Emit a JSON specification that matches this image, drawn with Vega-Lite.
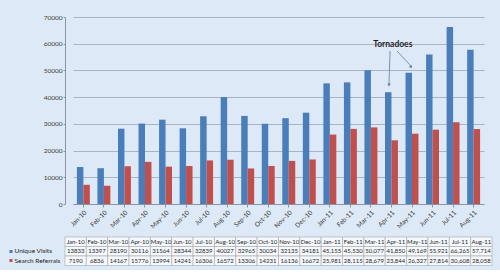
{
  "$schema": "https://vega.github.io/schema/vega-lite/v6.json",
  "background": "#dde9f6",
  "padding": {"left": 7, "top": 14, "right": 10, "bottom": 4},
  "spacing": 6,
  "datasets": {
    "traffic": [
      {"month": "Jan-10", "visits": 13833, "referrals": 7190},
      {"month": "Feb-10", "visits": 13397, "referrals": 6836},
      {"month": "Mar-10", "visits": 28190, "referrals": 14167},
      {"month": "Apr-10", "visits": 30116, "referrals": 15776},
      {"month": "May-10", "visits": 31564, "referrals": 13994},
      {"month": "Jun-10", "visits": 28344, "referrals": 14241},
      {"month": "Jul-10", "visits": 32839, "referrals": 16306},
      {"month": "Aug-10", "visits": 40027, "referrals": 16572},
      {"month": "Sep-10", "visits": 32965, "referrals": 13306},
      {"month": "Oct-10", "visits": 30034, "referrals": 14231},
      {"month": "Nov-10", "visits": 32135, "referrals": 16136},
      {"month": "Dec-10", "visits": 34181, "referrals": 16672},
      {"month": "Jan-11", "visits": 45155, "referrals": 25981},
      {"month": "Feb-11", "visits": 45530, "referrals": 28115},
      {"month": "Mar-11", "visits": 50077, "referrals": 28679},
      {"month": "Apr-11", "visits": 41850, "referrals": 23844},
      {"month": "May-11", "visits": 49169, "referrals": 26327},
      {"month": "Jun-11", "visits": 55921, "referrals": 27814},
      {"month": "Jul-11", "visits": 66265, "referrals": 30608},
      {"month": "Aug-11", "visits": 57714, "referrals": 28058}
    ]
  },
  "vconcat": [
    {
      "width": 427,
      "height": 187,
      "layer": [
        {
          "data": {"name": "traffic"},
          "transform": [{"fold": ["visits", "referrals"], "as": ["series", "count"]}],
          "mark": {"type": "bar"},
          "encoding": {
            "x": {
              "field": "month",
              "type": "nominal",
              "sort": null,
              "title": null,
              "scale": {"range": [8, 419], "paddingInner": 0.37, "paddingOuter": 0.19},
              "axis": {"labelAngle": -45, "labelFontSize": 6.5, "labelColor": "#404040", "tickSize": 3, "tickColor": "#8a96a3", "domainColor": "#8a96a3", "labelPadding": 2}
            },
            "xOffset": {"field": "series", "scale": {"domain": ["visits", "referrals"]}},
            "y": {
              "field": "count",
              "type": "quantitative",
              "title": null,
              "scale": {"domain": [0, 70000]},
              "axis": {"values": [0, 10000, 20000, 30000, 40000, 50000, 60000, 70000], "format": "d"}
            },
            "color": {"field": "series", "scale": {"domain": ["visits", "referrals"], "range": ["#4a7ebb", "#c0504d"]}, "legend": null}
          }
        },
        {
          "data": {"values": [{"note": "Tornadoes"}]},
          "mark": {"type": "text", "fontWeight": "bold", "fontSize": 8.5, "color": "#1f1f1f"},
          "encoding": {
            "x": {"datum": "Apr-11", "bandPosition": 0.6},
            "y": {"datum": 59800, "axis": {"values": [0, 10000, 20000, 30000, 40000, 50000, 60000, 70000], "format": "d"}},
            "text": {"field": "note"}
          }
        },
        {
          "data": {"values": [{"note": "Tornadoes"}]},
          "mark": {"type": "rule", "color": "#5b7fa6", "strokeWidth": 0.8},
          "encoding": {
            "x": {"datum": "Apr-11", "bandPosition": 0.39},
            "x2": {"datum": "Apr-11", "bandPosition": 0.31},
            "y": {"datum": 57270, "axis": {"values": [0, 10000, 20000, 30000, 40000, 50000, 60000, 70000], "format": "d"}},
            "y2": {"datum": 44900}
          }
        },
        {
          "data": {"values": [{"note": "Tornadoes"}]},
          "mark": {"type": "rule", "color": "#5b7fa6", "strokeWidth": 0.8},
          "encoding": {
            "x": {"datum": "Apr-11", "bandPosition": 0.93},
            "x2": {"datum": "May-11", "bandPosition": 0.43},
            "y": {"datum": 57270, "axis": {"values": [0, 10000, 20000, 30000, 40000, 50000, 60000, 70000], "format": "d"}},
            "y2": {"datum": 51600}
          }
        },
        {
          "data": {"values": [{"note": "Tornadoes"}]},
          "mark": {"type": "point", "shape": "triangle-down", "filled": true, "color": "#5b7fa6", "size": 12, "opacity": 1, "angle": 2},
          "encoding": {
            "x": {"datum": "Apr-11", "bandPosition": 0.31},
            "y": {"datum": 44545, "axis": {"values": [0, 10000, 20000, 30000, 40000, 50000, 60000, 70000], "format": "d"}}
          }
        },
        {
          "data": {"values": [{"note": "Tornadoes"}]},
          "mark": {"type": "point", "shape": "triangle-down", "filled": true, "color": "#5b7fa6", "size": 12, "opacity": 1, "angle": 319},
          "encoding": {
            "x": {"datum": "May-11", "bandPosition": 0.43},
            "y": {"datum": 51283, "axis": {"values": [0, 10000, 20000, 30000, 40000, 50000, 60000, 70000], "format": "d"}}
          }
        }
      ]
    },
    {
      "width": 427,
      "height": 28.5,
      "data": {"name": "traffic"},
      "layer": [
        {
          "mark": {"type": "rect", "fill": "#f5f9fd", "stroke": "#a6a6a6", "strokeWidth": 0.6},
          "encoding": {
            "x": {"field": "month", "type": "nominal", "sort": null, "scale": {"paddingInner": 0, "paddingOuter": 0}, "axis": null},
            "y": {
              "datum": "hdr",
              "type": "nominal",
              "scale": {"domain": ["hdr", "visits", "referrals"], "paddingInner": 0, "paddingOuter": 0},
              "axis": {
                "title": null,
                "offset": 53,
                "domain": false,
                "grid": false,
                "tickSize": 3,
                "tickWidth": 3,
                "tickColor": {"condition": {"test": "datum.value === 'visits'", "value": "#4a7ebb"}, "value": "#c0504d"},
                "tickOpacity": {"condition": {"test": "datum.value === 'hdr'", "value": 0}, "value": 1},
                "labelAlign": "left",
                "labelPadding": -5,
                "labelFontSize": 6.5,
                "labelColor": "#262626",
                "labelExpr": "datum.value === 'visits' ? 'Unique Visits' : datum.value === 'referrals' ? 'Search Referrals' : ''"
              }
            }
          }
        },
        {
          "mark": {"type": "text", "fontSize": 6, "color": "#262626"},
          "encoding": {
            "x": {"field": "month", "type": "nominal", "sort": null},
            "y": {"datum": "hdr", "type": "nominal"},
            "text": {"field": "month"}
          }
        },
        {
          "transform": [{"fold": ["visits", "referrals"], "as": ["series", "count"]}],
          "mark": {"type": "rect", "fill": "#f5f9fd", "stroke": "#a6a6a6", "strokeWidth": 0.6},
          "encoding": {
            "x": {"field": "month", "type": "nominal", "sort": null},
            "y": {"field": "series", "type": "nominal"}
          }
        },
        {
          "transform": [
            {"fold": ["visits", "referrals"], "as": ["series", "count"]},
            {"filter": "slice(datum.month, 4) === '10'"}
          ],
          "mark": {"type": "text", "fontSize": 6, "color": "#262626"},
          "encoding": {
            "x": {"field": "month", "type": "nominal", "sort": null},
            "y": {"field": "series", "type": "nominal"},
            "text": {"field": "count", "type": "quantitative", "format": "d"}
          }
        },
        {
          "transform": [
            {"fold": ["visits", "referrals"], "as": ["series", "count"]},
            {"filter": "slice(datum.month, 4) === '11'"}
          ],
          "mark": {"type": "text", "fontSize": 6, "color": "#262626"},
          "encoding": {
            "x": {"field": "month", "type": "nominal", "sort": null},
            "y": {"field": "series", "type": "nominal"},
            "text": {"field": "count", "type": "quantitative", "format": ","}
          }
        }
      ]
    }
  ],
  "config": {
    "font": "Lato",
    "view": {"stroke": null},
    "axisY": {"labelFontSize": 6.5, "labelColor": "#404040", "tickSize": 2, "labelPadding": 1, "tickColor": "#8a96a3", "domainColor": "#8a96a3", "gridColor": "#9aa6b3", "gridWidth": 0.8, "labelOverlap": false}
  }
}
